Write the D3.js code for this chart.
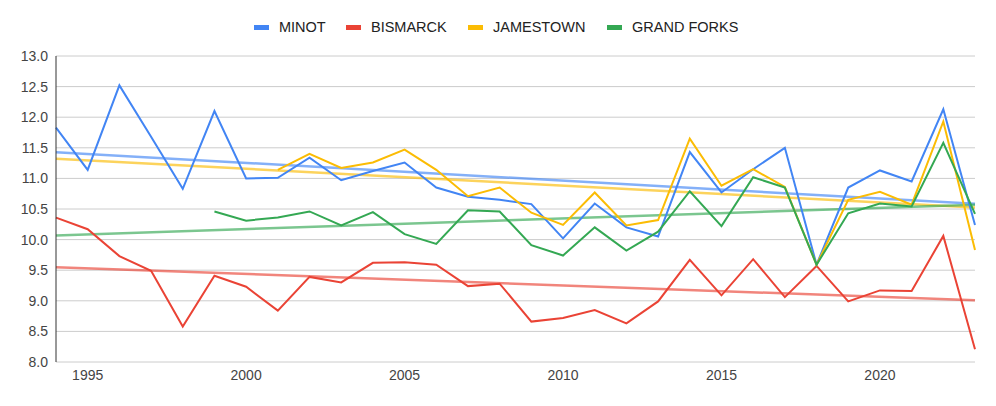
<!DOCTYPE html>
<html>
<head>
<meta charset="utf-8">
<script src="https://cdn.jsdelivr.net/npm/d3@7"></script>
<style>
  body { margin: 0; background: #fff; }
  text { font-family: "Liberation Sans", Arial, sans-serif; }
</style>
</head>
<body>
<div id="chart"></div>
<script>
const width = 996, height = 406;

const years = d3.range(1994, 2024);

const minot = [11.83, 11.14, 12.52, 11.68, 10.83, 12.10, 11.00, 11.01, 11.34, 10.97,
  11.12, 11.26, 10.85, 10.70, 10.65, 10.58, 10.02, 10.59, 10.20, 10.05,
  11.43, 10.77, 11.15, 11.50, 9.59, 10.85, 11.13, 10.95, 12.13, 10.24];
const bismarck = [10.36, 10.17, 9.73, 9.49, 8.58, 9.41, 9.23, 8.84, 9.39, 9.30,
  9.62, 9.63, 9.59, 9.24, 9.28, 8.66, 8.72, 8.85, 8.63, 8.99,
  9.67, 9.09, 9.68, 9.06, 9.57, 8.99, 9.17, 9.16, 10.06, 8.21];
const jamestown = [null, null, null, null, null, null, null, 11.14, 11.40, 11.17,
  11.26, 11.47, 11.14, 10.71, 10.85, 10.44, 10.24, 10.77, 10.23, 10.32,
  11.65, 10.88, 11.15, 10.86, 9.59, 10.65, 10.78, 10.57, 11.93, 9.83];
const grandForks = [null, null, null, null, null, 10.46, 10.31, 10.36, 10.46, 10.23,
  10.45, 10.09, 9.93, 10.48, 10.46, 9.91, 9.74, 10.20, 9.82, 10.13,
  10.79, 10.22, 11.02, 10.85, 9.59, 10.43, 10.59, 10.54, 11.58, 10.42];

const seriesNames = ["MINOT", "BISMARCK", "JAMESTOWN", "GRAND FORKS"];
const seriesColors = ["#4285F4", "#EA4335", "#FBBC04", "#34A853"];
const yTicks = [8.0, 8.5, 9.0, 9.5, 10.0, 10.5, 11.0, 11.5, 12.0, 12.5, 13.0];
const xTicks = [1995, 2000, 2005, 2010, 2015, 2020];

const series = [minot, bismarck, jamestown, grandForks].map((vals, i) => ({
  name: seriesNames[i],
  color: seriesColors[i],
  points: years.map((yr, j) => ({ year: yr, value: vals[j] })).filter(d => d.value != null)
}));

const margin = { top: 56, right: 21, bottom: 44, left: 56 };

const svg = d3.select("#chart")
  .append("svg")
  .attr("width", width)
  .attr("height", height);

const x = d3.scaleLinear()
  .domain([1994, 2023])
  .range([margin.left, width - margin.right]);

const y = d3.scaleLinear()
  .domain([8, 13])
  .range([height - margin.bottom, margin.top]);

// gridlines
svg.append("g")
  .selectAll("line")
  .data(yTicks)
  .join("line")
  .attr("x1", margin.left)
  .attr("x2", width - margin.right)
  .attr("y1", d => y(d))
  .attr("y2", d => y(d))
  .attr("stroke", "#cccccc")
  .attr("stroke-width", 1);

// y labels
svg.append("g")
  .selectAll("text")
  .data(yTicks)
  .join("text")
  .attr("x", margin.left - 8)
  .attr("y", d => y(d))
  .attr("dy", "0.35em")
  .attr("text-anchor", "end")
  .attr("font-size", 14)
  .attr("fill", "#444")
  .text(d => d.toFixed(1));

// x labels
svg.append("g")
  .selectAll("text")
  .data(xTicks)
  .join("text")
  .attr("x", d => x(d))
  .attr("y", height - margin.bottom + 18)
  .attr("text-anchor", "middle")
  .attr("font-size", 14)
  .attr("fill", "#444")
  .text(d => d);

// linear trendlines (least squares over each series)
function trend(points) {
  const mx = d3.mean(points, d => d.year), my = d3.mean(points, d => d.value);
  const sxy = d3.sum(points, d => (d.year - mx) * (d.value - my));
  const sxx = d3.sum(points, d => (d.year - mx) ** 2);
  const b = sxy / sxx, a = my - b * mx;
  return x.domain().map(yr => ({ year: yr, value: a + b * yr }));
}

const line = d3.line()
  .x(d => x(d.year))
  .y(d => y(d.value));

svg.append("g")
  .selectAll("path")
  .data(series)
  .join("path")
  .attr("d", d => line(trend(d.points)))
  .attr("fill", "none")
  .attr("stroke", d => d.color)
  .attr("stroke-opacity", 0.65)
  .attr("stroke-width", 2.5);

svg.append("g")
  .selectAll("path")
  .data(series)
  .join("path")
  .attr("d", d => line(d.points))
  .attr("fill", "none")
  .attr("stroke", d => d.color)
  .attr("stroke-width", 2)
  .attr("stroke-linejoin", "miter");

// left axis line
svg.append("line")
  .attr("x1", margin.left)
  .attr("x2", margin.left)
  .attr("y1", y(13))
  .attr("y2", y(8))
  .attr("stroke", "#333")
  .attr("stroke-width", 1);

// legend
const legendX = [254, 346, 468, 607];
const legend = svg.append("g")
  .selectAll("g")
  .data(series)
  .join("g")
  .attr("transform", (d, i) => `translate(${legendX[i]}, 27)`);

legend.append("rect")
  .attr("x", 0)
  .attr("y", -2)
  .attr("width", 15)
  .attr("height", 5)
  .attr("fill", d => d.color);

legend.append("text")
  .attr("x", 25)
  .attr("dy", "0.35em")
  .attr("font-size", 14.5)
  .attr("fill", "#222")
  .text(d => d.name);
</script>
</body>
</html>
